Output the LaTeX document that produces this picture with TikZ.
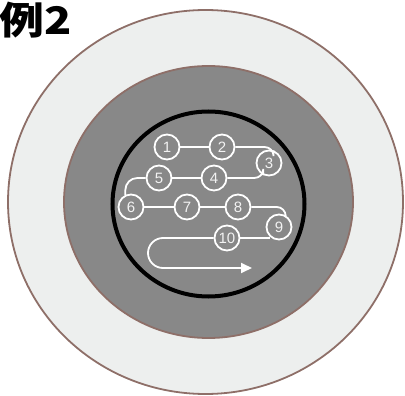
\documentclass[tikz,border=0pt]{standalone}
\usepackage{fontspec}
\setsansfont{Liberation Sans}
\newfontfamily\cjk{Noto Sans CJK JP}
\usetikzlibrary{arrows.meta,calc}
\definecolor{ringbrown}{HTML}{8E6F68}
\definecolor{lightfill}{HTML}{EDEFEE}
\definecolor{midgray}{HTML}{888888}
\definecolor{numwhite}{HTML}{F2F2F2}
\tikzset{
  numnode/.style={circle,draw=white,line width=1.8pt,minimum size=25pt,inner sep=0pt,
    text=numwhite,font=\sffamily\fontsize{15pt}{15pt}\selectfont},
  snake/.style={draw=white,line width=1.8pt},
}
\begin{document}
\begin{tikzpicture}[x=1pt,y=-1pt]
\useasboundingbox (0,0) rectangle (405,396);
% rings
\draw[fill=lightfill,draw=ringbrown,line width=1.8pt] (205.5,202) ellipse [x radius=197.5, y radius=192];
\draw[fill=midgray,draw=ringbrown,line width=1.8pt] (208.5,202) ellipse [x radius=144.5, y radius=136];
\draw[black,line width=4pt] (208.5,204) ellipse [x radius=96, y radius=92.5];
% title
\node[anchor=base west,inner sep=0pt,font=\cjk\bfseries\fontsize{38pt}{38pt}\selectfont] (title) at (-1,35) {\scalebox{1.18}[1]{例2}};
% nodes
\node[numnode] (n1) at (167,147) {1};
\node[numnode] (n2) at (222,147) {2};
\node[numnode] (n3) at (269,163) {3};
\node[numnode] (n4) at (214,178) {4};
\node[numnode] (n5) at (159,178) {5};
\node[numnode] (n6) at (131,207) {6};
\node[numnode] (n7) at (187,207) {7};
\node[numnode] (n8) at (238,207) {8};
\node[numnode] (n9) at (279,227) {9};
\node[numnode] (n10) at (227,238) {10};
\coordinate (tip) at (252,268);
% connectors
\draw[snake] (n1) -- (n2);
\draw[snake,rounded corners=9pt] (n2.east) -| (n3.70);
\draw[snake,rounded corners=9pt] (n4.east) -| (n3.-115);
\draw[snake] (n4) -- (n5);
\draw[snake,rounded corners=12pt] (n5.west) -| (n6.115);
\draw[snake] (n6) -- (n7);
\draw[snake] (n7) -- (n8);
\draw[snake,rounded corners=9pt] (n8.east) -| (n9.60);
\draw[snake] (n10.east) -- (n10.east -| n9.-130);
\draw[snake,rounded corners=15pt,-{Triangle[length=11pt,width=10pt]}] (n10.west) -- (148,238) -- (148,268) -- (tip);
\end{tikzpicture}
\end{document}
